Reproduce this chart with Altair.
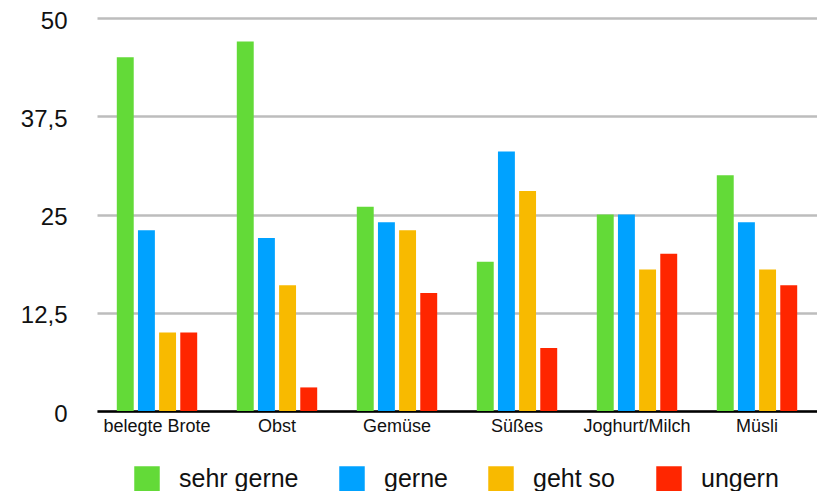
import altair as alt
import pandas as pd

categories = ["belegte Brote", "Obst", "Gemüse", "Süßes", "Joghurt/Milch", "Müsli"]
series = ["sehr gerne", "gerne", "geht so", "ungern"]
sehr_gerne = [45, 47, 26, 19, 25, 30]
gerne = [23, 22, 24, 33, 25, 24]
geht_so = [10, 16, 23, 28, 18, 18]
ungern = [10, 3, 15, 8, 20, 16]
colors = ["#63da38", "#00a2ff", "#f8ba00", "#ff2600"]
y_ticks = [0, 12.5, 25, 37.5, 50]

rows = []
for s, vals in zip(series, [sehr_gerne, gerne, geht_so, ungern]):
    for c, v in zip(categories, vals):
        rows.append({"Kategorie": c, "Serie": s, "Wert": v})
df = pd.DataFrame(rows)

FONT = "Liberation Sans"

bars = alt.Chart(df).mark_bar().encode(
    x=alt.X("Kategorie:N", sort=categories,
            scale=alt.Scale(paddingInner=0.33, paddingOuter=0.165),
            axis=alt.Axis(title=None, labelAngle=0, labelFontSize=18, labelColor="#111",
                          labelFont=FONT, labelPadding=6, ticks=False,
                          domainColor="#000", domainWidth=2.5, grid=False)),
    xOffset=alt.XOffset("Serie:N", sort=series, scale=alt.Scale(paddingInner=0.2)),
    y=alt.Y("Wert:Q", scale=alt.Scale(domain=[0, 50], nice=False),
            axis=alt.Axis(title=None, values=y_ticks, labelFontSize=24, labelColor="#111",
                          labelFont=FONT, labelPadding=30, labelOffset=3, ticks=False,
                          domain=False, gridColor="#bdbdbd", gridWidth=2.5,
                          labelExpr="replace(toString(datum.value), '.', ',')")),
    color=alt.Color("Serie:N", sort=series,
                    scale=alt.Scale(domain=series, range=colors),
                    legend=alt.Legend(title=None, orient="none", direction="horizontal",
                                      legendX=37, legendY=448, padding=0,
                                      symbolType="square",
                                      symbolSize=650, symbolStrokeWidth=0, symbolOpacity=1,
                                      labelFontSize=25, labelFont=FONT, labelColor="#111",
                                      labelOffset=19, columnPadding=40, symbolLimit=0)),
)

chart = bars.properties(
    width=720, height=393,
    autosize=alt.AutoSizeParams(type="none"),
    padding={"left": 89, "top": 10, "right": 0, "bottom": 80},
).configure_view(stroke=None).configure_axis(labelFont=FONT)

chart.save("out.html", embed_options={"renderer": "svg", "actions": False})
